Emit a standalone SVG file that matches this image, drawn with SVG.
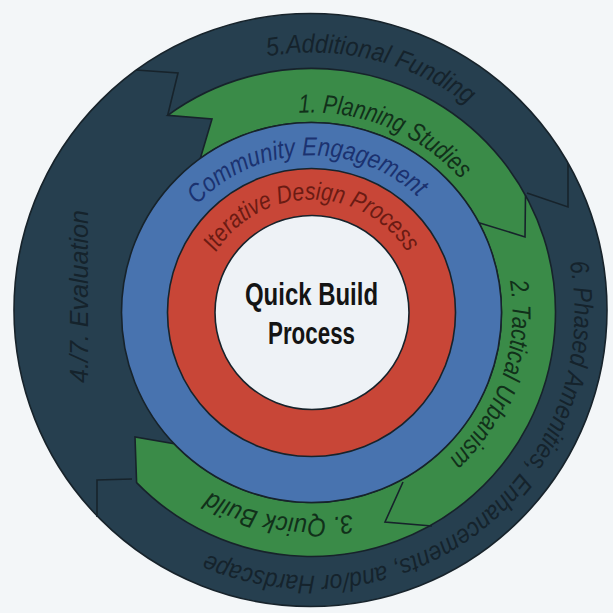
<svg xmlns="http://www.w3.org/2000/svg" width="613" height="613" viewBox="0 0 613 613">
  <style>
    .edge { stroke: #17232b; stroke-width: 1.6; }
    .cut { fill: none; stroke: #17232b; stroke-width: 1.6; stroke-linejoin: miter; }
    .lbl { font-family: "Liberation Sans Narrow", "Liberation Sans", Arial, sans-serif; font-style: italic; font-size: 26px; }
    .dark-txt { fill: #15232c; }
    .green-txt { fill: #11301a; }
    .blue-txt { fill: #1b3270; }
    .red-txt { fill: #6b1b13; font-size: 25px; }
    .core-txt { font-family: "Liberation Sans", Arial, sans-serif; font-weight: bold; font-size: 32px; fill: #141414; text-anchor: middle; }
  </style>
  <defs>
    <!-- clockwise baseline arcs around the common centre (311.5, 312.5) -->
    <path id="arc-funding" d="M267.2,56.3 A260,260 0 0 1 468.0,104.9"/>
    <path id="arc-amenities" d="M569.7,262.3 A263,263 0 0 1 206.6,553.7"/>
    <path id="arc-planning" d="M298.9,112.9 A200,200 0 0 1 460.8,179.5"/>
    <path id="arc-tactical" d="M510.0,281.1 A201,201 0 0 1 449.1,459.0"/>
    <path id="arc-quickbuild" d="M351.9,514.5 A206,206 0 0 1 209.4,491.4"/>
    <path id="arc-community" d="M197.2,204.8 A157,157 0 0 1 418.0,197.1"/>
    <path id="arc-iterative" d="M215.8,252.5 A113,113 0 0 1 407.2,252.5"/>
  </defs>

  <rect width="613" height="613" fill="#f3f6f8"/>

  <!-- outer ring: funding, amenities and evaluation arrows -->
  <g id="outer-ring">
    <circle cx="310.5" cy="310" r="296.5" fill="#263f4f" class="edge"/>
    <text class="lbl dark-txt"><textPath href="#arc-funding" textLength="212" lengthAdjust="spacingAndGlyphs">5.Additional Funding</textPath></text>
    <text class="lbl dark-txt"><textPath href="#arc-amenities" textLength="571" lengthAdjust="spacingAndGlyphs">6. Phased Amenities, Enhancements, and/or Hardscape</textPath></text>
    <text class="lbl dark-txt" x="88" y="296.5" transform="rotate(-90 88 296.5)" text-anchor="middle" textLength="173" lengthAdjust="spacingAndGlyphs" dy="0">4./7. Evaluation</text>
  </g>

  <!-- green ring: planning, tactical urbanism and quick build arrows -->
  <g id="green-ring">
    <path d="M167.7,115.3 A244,244 0 1 1 136.6,482.6 L135.0,437.0 L174.1,443.8 A190,190 0 1 0 200.3,158.4 L212.0,119.0 Z" fill="#3a8b48" class="edge" stroke-linejoin="miter"/>
    <text class="lbl green-txt"><textPath href="#arc-planning" textLength="181" lengthAdjust="spacingAndGlyphs">1. Planning Studies</textPath></text>
    <text class="lbl green-txt"><textPath href="#arc-tactical" textLength="196" lengthAdjust="spacingAndGlyphs">2. Tactical Urbanism</textPath></text>
    <text class="lbl green-txt"><textPath href="#arc-quickbuild" textLength="147" lengthAdjust="spacingAndGlyphs">3. Quick Build</textPath></text>
  </g>

  <!-- arrow heads and notches where one arrow hands over to the next -->
  <g id="connectors">
    <polyline class="cut" points="525.5,195.3 525.0,236.9 478.9,222.7"/>
    <polyline class="cut" points="403,482 385,522 432,526"/>
    <polyline class="cut" points="568,163 568,207 527,193"/>
    <polyline class="cut" points="97,517 97,480 132,479"/>
    <polyline class="cut" points="136,70 178,73 167.7,115.3"/>
  </g>

  <g id="community-engagement">
    <circle cx="311.5" cy="312.5" r="190" fill="#4873af" class="edge"/>
    <text class="lbl blue-txt"><textPath href="#arc-community" textLength="245" lengthAdjust="spacingAndGlyphs">Community Engagement</textPath></text>
  </g>

  <g id="iterative-design">
    <circle cx="311.5" cy="312.5" r="144" fill="#c84637" class="edge"/>
    <text class="lbl red-txt"><textPath href="#arc-iterative" textLength="228" lengthAdjust="spacingAndGlyphs">Iterative Design Process</textPath></text>
  </g>

  <g id="quick-build-process">
    <circle cx="312" cy="312.5" r="97" fill="#eef2f6" class="edge"/>
    <text class="core-txt" x="311.5" y="305" textLength="133" lengthAdjust="spacingAndGlyphs">Quick Build</text>
    <text class="core-txt" x="311.5" y="344" textLength="87" lengthAdjust="spacingAndGlyphs">Process</text>
  </g>
</svg>
